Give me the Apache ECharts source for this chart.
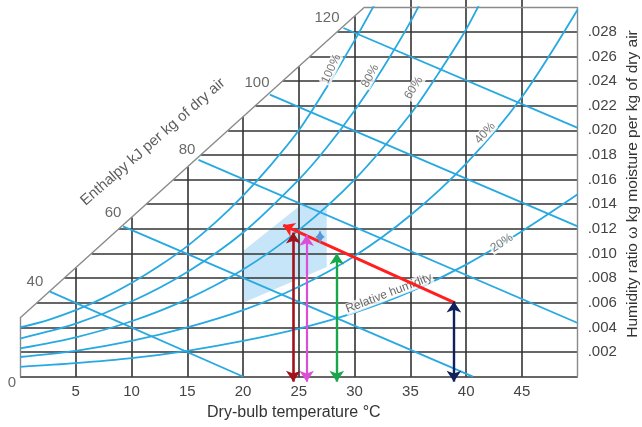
<!DOCTYPE html>
<html><head><meta charset="utf-8">
<script src="https://cdn.jsdelivr.net/npm/echarts/dist/echarts.min.js"></script>
<style>html,body{margin:0;padding:0;background:#fff}#c{width:642px;height:427px}</style>
</head><body><div id="c"></div>
<script>
// ---- data ----
const tempTicks = [5, 10, 15, 20, 25, 30, 35, 40, 45];
const humidityTicks = [0.002, 0.004, 0.006, 0.008, 0.010, 0.012, 0.014, 0.016, 0.018, 0.020, 0.022, 0.024, 0.026, 0.028];
const humidityLabels = ['.002', '.004', '.006', '.008', '.010', '.012', '.014', '.016', '.018', '.020', '.022', '.024', '.026', '.028'];
// enthalpy scale line (diagonal edge of chart)
const scaleLine = [[0, 0.00476], [30.9, 0.030]];
const tMax = 50, wMax = 0.030;
// relative humidity curves [T, w]
const rh100 = [[0, 0.0040], [2.5, 0.0046], [5, 0.0054], [7.5, 0.0064], [10, 0.0076], [12.5, 0.0090], [15, 0.0106], [17.5, 0.0125], [20, 0.0147], [22.5, 0.0172], [25, 0.0200], [27.5, 0.0235], [30, 0.0273], [32.5, 0.0314]];
const rh80 = [[0, 0.0031], [5, 0.0043], [10, 0.0061], [15, 0.0085], [20, 0.0117], [25, 0.0160], [27.5, 0.0186], [30, 0.0216], [32.5, 0.0250], [35, 0.0288], [37.5, 0.0332]];
const rh60 = [[0, 0.0023], [5, 0.0032], [10, 0.0045], [15, 0.0063], [20, 0.0087], [25, 0.0119], [30, 0.0160], [35, 0.0213], [37.5, 0.0246], [40, 0.0282], [42.5, 0.0326]];
const rh40 = [[0, 0.0016], [5, 0.0021], [10, 0.0029], [15, 0.0040], [20, 0.0054], [25, 0.0073], [30, 0.0098], [35, 0.0131], [40, 0.0173], [45, 0.0227], [50, 0.0298]];
const rh20 = [[0, 0.0008], [5, 0.0011], [10, 0.0015], [15, 0.0021], [20, 0.0029], [25, 0.0039], [30, 0.0052], [35, 0.0069], [40, 0.0091], [45, 0.0118], [50, 0.0148]];
// constant-enthalpy lines
const enthalpyLines = [
  [[2.69, 0.0069], [20.03, 0]],
  [[9.24, 0.0122], [40.6, 0]],
  [[16.0, 0.0176], [50, 0.00436]],
  [[22.4, 0.0229], [50, 0.0122]],
  [[29.0, 0.0283], [50, 0.0202]]
];
// comfort zone polygon
const comfortZone = [[20, 0.0060], [20, 0.0102], [22.5, 0.0120], [25.4, 0.0141], [27.5, 0.0141], [27.5, 0.0089]];
// process arrows
const redArrow = [[39.0, 0.0060], [23.6, 0.0123]];
const darkRedArrow = [[24.5, -0.0004], [24.5, 0.0117]];
const magentaArrow = [[25.7, -0.0004], [25.7, 0.0115]];
const greenArrow = [[28.4, -0.0004], [28.4, 0.0100]];
const navyArrow = [[38.9, -0.0004], [38.9, 0.0061]];
const smallBlueArrow = [[26.9, 0.0109], [26.9, 0.0118]];
// text labels
const enthalpyScaleLabels = [['0', -0.72, -0.00051], ['40', 1.34, 0.00769], ['60', 8.34, 0.01329], ['80', 14.97, 0.01840], ['100', 21.25, 0.02384], ['120', 27.52, 0.02912]];
const rhLabels = [['100%', 27.9, 0.02498, 65], ['80%', 31.4, 0.02441, 62], ['60%', 35.3, 0.02344, 57], ['40%', 41.7, 0.01978, 48], ['20%', 43.2, 0.01085, 33]];

// ---- derived grid segments ----
const diag = t => scaleLine[0][1] + (scaleLine[1][1] - scaleLine[0][1]) * t / scaleLine[1][0];
const diagT = w => (w - scaleLine[0][1]) * scaleLine[1][0] / (scaleLine[1][1] - scaleLine[0][1]);
const gridSegs = [];
gridSegs.push({coords: [[0, 0], [tMax, 0]]});
tempTicks.forEach(t => gridSegs.push({coords: [[t, 0], [t, diag(t)]]}));
humidityTicks.forEach(w => gridSegs.push({coords: [[Math.max(0, diagT(w)), w], [tMax, w]]}));
const borderSegs = [
  {coords: [[0, 0], scaleLine[0]]},
  {coords: [scaleLine[0], scaleLine[1]]},
  {coords: [scaleLine[1], [tMax, wMax]]},
  {coords: [[tMax, wMax], [tMax, 0]]}
];

const BLUE = '#27a9e1';
const FONT = 'Liberation Sans';
const chart = echarts.init(document.getElementById('c'));

function rhSeries(d) {
  return {type: 'line', data: d, smooth: 0.3, showSymbol: false, clip: true, silent: true, z: 3,
    lineStyle: {color: BLUE, width: 1.8}};
}
function arrow(d, color, w, sym, size) {
  return {type: 'lines', coordinateSystem: 'cartesian2d', clip: false, silent: true, z: 6,
    symbol: sym || ['arrow', 'arrow'], symbolSize: size || 11,
    lineStyle: {color: color, width: w, opacity: 1},
    itemStyle: {color: color},
    data: [{coords: d}]};
}

chart.setOption({
  animation: false,
  grid: {left: 20, right: 64.3, top: 7.1, bottom: 50.3},
  xAxis: {
    type: 'value', min: 0, max: tMax, interval: 5,
    axisLine: {show: false}, axisTick: {show: false}, splitLine: {show: false},
    axisLabel: {margin: 8, fontSize: 15, color: '#444', fontFamily: FONT,
      formatter: v => tempTicks.indexOf(v) >= 0 ? String(v) : ''},
    name: 'Dry-bulb temperature °C', nameLocation: 'middle', nameGap: 28,
    nameTextStyle: {fontSize: 16, color: '#333', fontFamily: FONT, padding: [0, 10, 0, 0]}
  },
  yAxis: {
    type: 'value', position: 'right', min: 0, max: wMax, interval: 0.002,
    axisLine: {show: false}, axisTick: {show: false}, splitLine: {show: false},
    axisLabel: {margin: 10, fontSize: 15, color: '#444', fontFamily: FONT,
      formatter: v => { const i = humidityTicks.findIndex(h => Math.abs(h - v) < 1e-6); return i >= 0 ? humidityLabels[i] : ''; }}
  },
  graphic: [{type: 'text', x: 633, y: 184, rotation: Math.PI / 2, silent: true,
    style: {text: 'Humidity ratio ω kg moisture per kg of dry air', fontSize: 15.5, fill: '#333', fontFamily: FONT,
      align: 'center', verticalAlign: 'middle'}}],
  series: [
    {type: 'custom', silent: true, z: 1, data: [0], clip: false,
      renderItem: (params, api) => ({type: 'polygon',
        shape: {points: comfortZone.map(p => api.coord(p))},
        style: {fill: '#c7e5f8', stroke: null}})},
    {type: 'lines', coordinateSystem: 'cartesian2d', clip: false, silent: true, z: 2,
      lineStyle: {color: '#333', width: 1.6, opacity: 1}, data: gridSegs},
    {type: 'lines', coordinateSystem: 'cartesian2d', clip: false, silent: true, z: 2,
      lineStyle: {color: '#8a8a8a', width: 1.4, opacity: 1}, data: borderSegs},
    {type: 'lines', coordinateSystem: 'cartesian2d', clip: false, silent: true, z: 3,
      lineStyle: {color: BLUE, width: 1.8, opacity: 1}, data: enthalpyLines.map(c => ({coords: c}))},
    rhSeries(rh100), rhSeries(rh80), rhSeries(rh60), rhSeries(rh40), rhSeries(rh20),
    {type: 'scatter', clip: false, silent: true, z: 4, symbolSize: 1, itemStyle: {color: 'rgba(0,0,0,0)'},
      data: rhLabels.map(r => ({value: [r[1], r[2]], name: r[0], label: {rotate: r[3]}})),
      label: {show: true, position: 'inside', formatter: p => p.name, fontSize: 12, color: '#555', fontFamily: FONT,
        backgroundColor: '#fff', padding: [0, 1]}},
    {type: 'scatter', clip: false, silent: true, z: 4, symbolSize: 1, itemStyle: {color: 'rgba(0,0,0,0)'},
      data: [{value: [33.08, 0.00677], name: 'Relative humidity'}],
      label: {show: true, position: 'inside', formatter: p => p.name, rotate: 21, fontSize: 12, color: '#444', fontFamily: FONT,
        backgroundColor: '#fff', padding: [0, 1]}},
    {type: 'scatter', clip: false, silent: true, z: 4, symbolSize: 1, itemStyle: {color: 'rgba(0,0,0,0)'},
      data: enthalpyScaleLabels.map(r => ({value: [r[1], r[2]], name: r[0]})),
      label: {show: true, position: 'inside', formatter: p => p.name, fontSize: 15, color: '#444', fontFamily: FONT}},
    {type: 'scatter', clip: false, silent: true, z: 4, symbolSize: 1, itemStyle: {color: 'rgba(0,0,0,0)'},
      data: [{value: [11.92, 0.01905], name: 'Enthalpy kJ per kg of dry air'}],
      label: {show: true, position: 'inside', formatter: p => p.name, rotate: 41, fontSize: 15, color: '#333', fontFamily: FONT}},
    arrow(redArrow, '#ff1f1f', 3, ['none', 'arrow']),
    arrow(darkRedArrow, '#a3111b', 2.6),
    arrow(magentaArrow, '#dc4ed8', 2.2),
    arrow(greenArrow, '#17a84b', 2.4),
    arrow(navyArrow, '#10205c', 2.4),
    arrow(smallBlueArrow, '#5b95d6', 1.6, ['arrow', 'arrow'], 7)
  ]
});
</script>
</body></html>
